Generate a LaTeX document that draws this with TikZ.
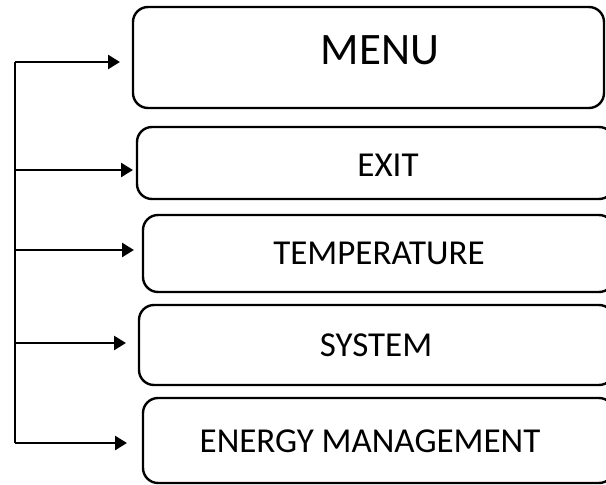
\documentclass[tikz,border=0pt]{standalone}
\usepackage{fontspec}
\setmainfont{Carlito}
\usetikzlibrary{arrows.meta}
\begin{document}
\begin{tikzpicture}[x=1pt,y=-1pt,
  menubox/.style={draw,line width=2.4pt,rounded corners=15pt},
  conn/.style={line width=2.6pt,-{Triangle[length=12pt,width=14pt]}},
  lbl/.style={font=\fontsize{35}{38}\selectfont,inner sep=0pt}]
\useasboundingbox (0,0) rectangle (606,485);
\clip (0,0) rectangle (606,485);
\draw[menubox] (133,7) rectangle (604,108);
\draw[menubox] (137,127) rectangle (614,199);
\draw[menubox] (143,215) rectangle (614,292);
\draw[menubox] (139,305) rectangle (614,385);
\draw[menubox] (143,398) rectangle (614,483);
\node[lbl,font=\fontsize{45}{48}\selectfont] (menu) at (380,50) {MENU};
\node[lbl] (exit) at (388,165) {EXIT};
\node[lbl] (temp) at (379,253) {TEMPERATURE};
\node[lbl] (sys) at (376,345) {SYSTEM};
\node[lbl] (energy) at (370,441) {ENERGY MANAGEMENT};
\coordinate (m) at (120,62);
\coordinate (e) at (133,170);
\coordinate (t) at (134,250);
\coordinate (s) at (126,343);
\coordinate (g) at (127,443);
\coordinate (top) at (15,62);
\coordinate (bot) at (15,443);
\draw[line width=2.6pt] (top) -- (bot);
\draw[conn] (top) -- (m);
\draw[conn] (15,170) -- (e);
\draw[conn] (15,250) -- (t);
\draw[conn] (15,343) -- (s);
\draw[conn] (bot) -- (g);
\end{tikzpicture}
\end{document}
